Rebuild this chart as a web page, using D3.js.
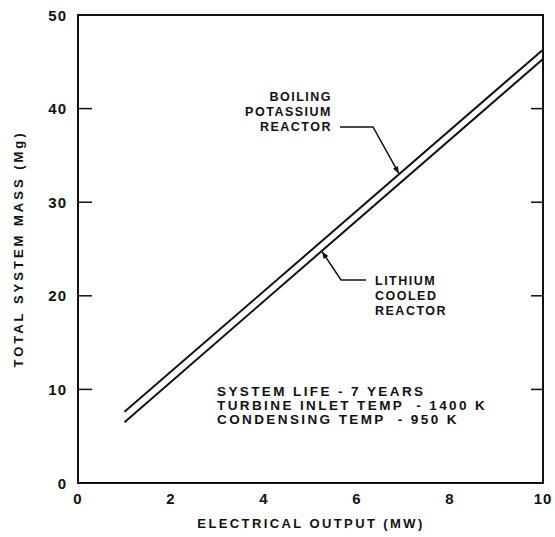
<!DOCTYPE html>
<html>
<head>
<meta charset="utf-8">
<script src="https://cdn.jsdelivr.net/npm/d3@7"></script>
<style>
  body { margin: 0; background: #fff; }
  text { font-family: "Liberation Sans", Arial, sans-serif; font-weight: bold; fill: #111; }
</style>
</head>
<body>
<div id="container"></div>
<script>
// values
let xTicks = [0, 2, 4, 6, 8, 10];
let yTicks = [0, 10, 20, 30, 40, 50];
let output = [1, 10];                 // MW
let potassiumMass = [7.6, 46.3];      // Mg
let lithiumMass = [6.5, 45.3];        // Mg
let notes = ["SYSTEM LIFE - 7 YEARS", "TURBINE INLET TEMP  - 1400 K", "CONDENSING TEMP  - 950 K"];
let potassiumLabel = ["BOILING", "POTASSIUM", "REACTOR"];
let lithiumLabel = ["LITHIUM", "COOLED", "REACTOR"];

let width = 555, height = 537;
let margin = { top: 15, right: 12, bottom: 54, left: 78 };

let svg = d3.select("#container")
    .append("svg")
    .attr("width", width)
    .attr("height", height);

let x = d3.scaleLinear().domain([0, 10]).range([margin.left, width - margin.right]);
let y = d3.scaleLinear().domain([0, 50]).range([height - margin.bottom, margin.top]);

// frame
svg.append("rect")
    .attr("x", x(0))
    .attr("y", y(50))
    .attr("width", x(10) - x(0))
    .attr("height", y(0) - y(50))
    .attr("fill", "none")
    .attr("stroke", "#111")
    .attr("stroke-width", 2);

// inward ticks on both sides
let inner = yTicks.filter(d => d > 0 && d < 50);
svg.append("g").selectAll("line")
    .data(inner)
    .enter()
    .append("line")
    .attr("x1", x(0)).attr("x2", x(0) + 14)
    .attr("y1", d => y(d)).attr("y2", d => y(d))
    .attr("stroke", "#111").attr("stroke-width", 1.5);
svg.append("g").selectAll("line")
    .data(inner)
    .enter()
    .append("line")
    .attr("x1", x(10)).attr("x2", x(10) - 12)
    .attr("y1", d => y(d)).attr("y2", d => y(d))
    .attr("stroke", "#111").attr("stroke-width", 1.5);

// tick labels
svg.append("g").selectAll("text")
    .data(yTicks)
    .enter()
    .append("text")
    .attr("x", x(0) - 11)
    .attr("y", d => y(d))
    .attr("text-anchor", "end")
    .attr("dominant-baseline", "central")
    .attr("style", "font-size:15px;letter-spacing:1px")
    .text(d => d);
svg.append("g").selectAll("text")
    .data(xTicks)
    .enter()
    .append("text")
    .attr("x", d => x(d))
    .attr("y", y(0) + 15)
    .attr("text-anchor", "middle")
    .attr("dominant-baseline", "central")
    .attr("style", "font-size:15px;letter-spacing:1px")
    .text(d => d);

// axis titles
svg.append("text")
    .attr("x", 311)
    .attr("y", 523)
    .attr("text-anchor", "middle")
    .attr("dominant-baseline", "central")
    .attr("style", "font-size:13px;letter-spacing:2.4px")
    .text("ELECTRICAL OUTPUT (MW)");
svg.append("text")
    .attr("transform", "translate(18,249) rotate(-90)")
    .attr("text-anchor", "middle")
    .attr("dominant-baseline", "central")
    .attr("style", "font-size:13px;letter-spacing:3px")
    .text("TOTAL SYSTEM MASS (Mg)");

// the two curves
let line = d3.line().x(d => x(d[0])).y(d => y(d[1]));
svg.append("path")
    .attr("d", line(d3.zip(output, potassiumMass)))
    .attr("fill", "none")
    .attr("stroke", "#111")
    .attr("stroke-width", 2);
svg.append("path")
    .attr("d", line(d3.zip(output, lithiumMass)))
    .attr("fill", "none")
    .attr("stroke", "#111")
    .attr("stroke-width", 2);

// arrowhead
svg.append("defs").append("marker")
    .attr("id", "arrow")
    .attr("viewBox", "0 0 10 10")
    .attr("refX", 10).attr("refY", 5)
    .attr("markerWidth", 9).attr("markerHeight", 7)
    .attr("markerUnits", "userSpaceOnUse")
    .attr("orient", "auto")
    .append("path")
    .attr("d", "M0,1 L10,5 L0,9 Z")
    .attr("fill", "#111");

// labels with leaders
function curveAt(xs, ys, v) {
    return ys[0] + (ys[1] - ys[0]) * (v - xs[0]) / (xs[1] - xs[0]);
}

svg.append("g").selectAll("text")
    .data(potassiumLabel)
    .enter()
    .append("text")
    .attr("x", 332)
    .attr("y", (_, i) => 97 + i * 15)
    .attr("text-anchor", "end")
    .attr("dominant-baseline", "central")
    .attr("style", "font-size:12.5px;letter-spacing:1.5px")
    .text(d => d);
let kx = 6.9;
svg.append("path")
    .attr("d", "M340,127 L373,127 L" + x(kx) + "," + (y(curveAt(output, potassiumMass, kx)) - 1))
    .attr("fill", "none")
    .attr("stroke", "#111")
    .attr("stroke-width", 1.5)
    .attr("marker-end", "url(#arrow)");

svg.append("g").selectAll("text")
    .data(lithiumLabel)
    .enter()
    .append("text")
    .attr("x", 375)
    .attr("y", (_, i) => 281 + i * 15)
    .attr("text-anchor", "start")
    .attr("dominant-baseline", "central")
    .attr("style", "font-size:12.5px;letter-spacing:1.5px")
    .text(d => d);
let lx = 5.25;
svg.append("path")
    .attr("d", "M366,280 L341,280 L" + x(lx) + "," + (y(curveAt(output, lithiumMass, lx)) + 1))
    .attr("fill", "none")
    .attr("stroke", "#111")
    .attr("stroke-width", 1.5)
    .attr("marker-end", "url(#arrow)");

// conditions
svg.append("g").selectAll("text")
    .data(notes)
    .enter()
    .append("text")
    .attr("x", 217)
    .attr("y", (_, i) => 391 + i * 14)
    .attr("dominant-baseline", "central")
    .attr("style", "font-size:13.5px;letter-spacing:2.4px;white-space:pre")
    .text(d => d);
</script>
</body>
</html>
